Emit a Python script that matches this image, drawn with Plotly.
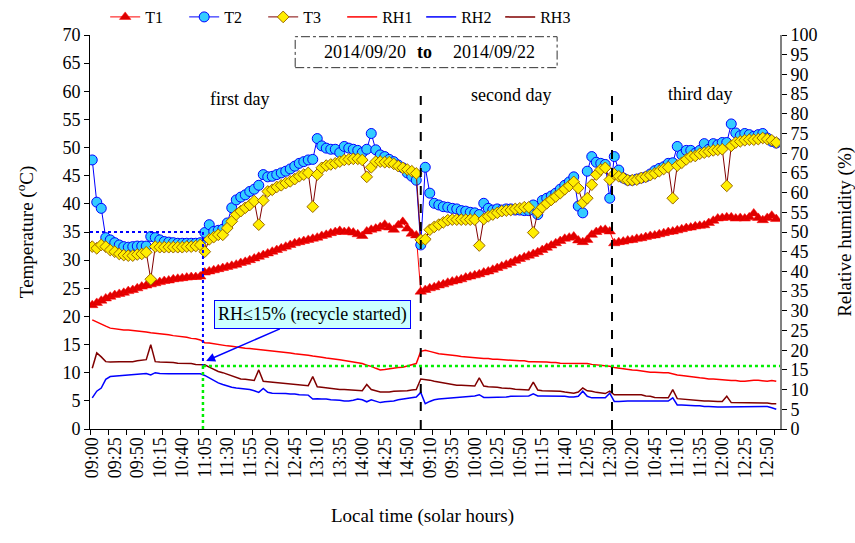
import plotly.graph_objects as go

# ---------------- data ----------------
DAY_SESSIONS = [("09:00", "15:00"), ("09:00", "12:30"), ("10:00", "13:00")]

T1_D1 = [22.0, 22.4, 22.8, 23.2, 23.5, 23.8, 24.0, 24.2, 24.5, 24.7,
         25.0, 25.3, 25.5, 25.7, 25.9, 26.1, 26.3, 26.4, 26.6, 26.7,
         26.8, 26.9, 27.0, 27.0, 27.1, 27.8, 28.0, 28.2, 28.4, 28.6,
         28.8, 29.0, 29.2, 29.5, 29.7, 30.0, 30.3, 30.6, 30.9, 31.2,
         31.5, 31.8, 32.1, 32.4, 32.7, 33.0, 33.2, 33.4, 33.6, 33.8,
         34.0, 34.3, 34.5, 34.8, 35.0, 35.2, 35.0, 35.1, 34.9, 34.6,
         34.3, 35.1, 35.4, 35.6, 35.9, 36.3, 35.8, 35.4, 36.2, 36.8,
         35.6, 34.7, 34.4]
T1_D2 = [24.4, 24.7, 25.0, 25.2, 25.5, 25.7, 26.0, 26.2, 26.4, 26.6,
         26.9, 27.1, 27.3, 27.5, 27.8, 28.0, 28.3, 28.6, 28.9, 29.2,
         29.5, 29.9, 30.2, 30.5, 30.8, 31.1, 31.4, 31.8, 32.2, 32.6,
         33.0, 33.4, 33.8, 34.0, 34.2, 33.5, 33.2, 33.6, 34.5, 35.0,
         35.3, 35.4, 35.1]
T1_D3 = [33.0, 33.2, 33.3, 33.5, 33.6, 33.8, 33.9, 34.1, 34.3, 34.4,
         34.6, 34.8, 35.0, 35.1, 35.3, 35.5, 35.7, 35.8, 36.0, 36.1,
         36.2, 36.6, 37.0, 37.4, 37.5, 37.6, 37.6, 37.4, 37.5, 37.4,
         37.6, 38.3, 37.5, 37.1, 37.5, 37.9, 37.3]

T2_D1 = [47.8, 40.3, 39.2, 34.0, 33.6, 33.1, 32.7, 32.4, 32.3, 32.4,
         32.5, 32.5, 32.5, 34.2, 34.0, 33.6, 33.3, 33.2, 33.1, 33.0,
         33.0, 33.0, 33.0, 33.0, 33.1, 34.9, 36.3, 35.1, 35.3, 35.5,
         36.6, 39.3, 40.7, 41.2, 41.6, 42.2, 42.6, 43.3, 45.2, 44.8,
         44.9, 45.2, 45.5, 45.8, 46.2, 46.7, 47.2, 47.5, 47.8, 47.9,
         51.6, 50.3, 49.9, 49.7, 49.7, 49.1, 50.2, 49.9, 49.7, 49.5,
         49.1, 49.7, 52.5, 49.6, 48.7, 48.4, 47.9, 47.5, 46.9, 46.4,
         45.5, 44.9, 44.2]
T2_D2 = [32.7, 46.5, 41.9, 40.1, 39.8, 39.5, 39.4, 39.2, 39.1, 38.8,
         38.7, 38.5, 38.4, 38.1, 40.1, 39.2, 38.9, 39.1, 38.9, 39.1,
         39.1, 38.9, 38.9, 38.8, 38.8, 39.8, 38.1, 40.6, 41.0, 41.4,
         41.9, 42.6, 43.3, 43.9, 44.8, 39.6, 38.4, 45.8, 48.4, 47.4,
         47.2, 47.0, 41.0]
T2_D3 = [48.4, 46.0, 44.6, 44.2, 44.2, 44.4, 44.6, 44.8, 45.3, 45.9,
         46.3, 46.6, 47.2, 47.3, 50.2, 48.7, 49.5, 49.5, 49.0, 49.5,
         50.7, 49.7, 50.7, 50.5, 50.9, 50.9, 54.2, 52.6, 52.1, 52.5,
         52.3, 52.0, 52.3, 52.5, 51.7, 51.1, 50.8]

T3_D1 = [32.4, 32.1, 32.7, 32.4, 31.8, 31.5, 31.1, 30.9, 30.8, 30.8,
         31.0, 31.1, 31.4, 26.6, 32.4, 32.3, 32.3, 32.3, 32.3, 32.3,
         32.3, 32.4, 32.4, 32.5, 32.7, 31.5, 33.7, 34.1, 34.5, 34.5,
         35.7, 36.9, 38.1, 38.7, 39.3, 39.8, 40.5, 36.3, 40.6, 42.2,
         42.5, 43.0, 43.3, 43.7, 44.0, 44.4, 44.9, 45.2, 45.5, 39.5,
         45.2, 46.4, 46.8, 47.0, 47.2, 47.5, 47.8, 47.9, 48.0, 48.0,
         47.8, 44.8, 46.5, 47.5, 47.5, 47.4, 47.4, 47.1, 46.7, 46.4,
         46.1, 45.8, 45.4]
T3_D2 = [33.6, 33.7, 35.4, 35.9, 36.3, 36.7, 37.1, 37.2, 37.2, 37.2,
         37.2, 37.2, 37.2, 32.6, 37.3, 37.8, 38.1, 38.4, 38.7, 38.8,
         38.9, 39.1, 39.2, 39.4, 39.4, 34.9, 38.5, 39.4, 40.1, 40.7,
         41.3, 41.9, 42.6, 43.2, 43.9, 42.8, 40.2, 41.0, 43.4, 45.2,
         46.1, 46.4, 44.3]
T3_D3 = [45.3, 44.9, 44.6, 44.2, 44.2, 44.3, 44.6, 44.8, 45.1, 45.4,
         45.8, 46.2, 46.5, 41.0, 46.8, 47.3, 47.9, 48.4, 48.5, 48.9,
         49.1, 49.3, 49.5, 49.6, 49.7, 43.2, 50.3, 50.9, 51.1, 51.3,
         51.4, 51.4, 51.5, 51.7, 51.5, 51.3, 50.9]

RH1_D1 = [27.7, 27.1, 26.7, 26.1, 25.6, 25.4, 25.3, 25.1, 25.1, 25.0,
          24.9, 24.7, 24.6, 24.4, 24.3, 24.1, 24.0, 23.9, 23.7, 23.6,
          23.4, 23.3, 23.0, 22.9, 22.6, 21.9, 21.8, 21.6, 21.5, 21.3,
          21.1, 21.0, 20.8, 20.7, 20.5, 20.4, 20.3, 20.1, 20.0, 19.9,
          19.8, 19.7, 19.5, 19.4, 19.3, 19.1, 19.0, 18.8, 18.7, 18.5,
          18.4, 18.2, 18.0, 17.9, 17.7, 17.6, 17.4, 17.2, 17.0, 16.8,
          16.6, 16.2, 15.9, 15.4, 15.0, 15.1, 15.3, 15.4, 15.6, 15.7,
          16.0, 16.3, 16.6]
RH1_D2 = [19.7, 20.0, 19.7, 19.3, 19.1, 19.0, 18.9, 18.7, 18.6, 18.4,
          18.3, 18.1, 18.1, 18.0, 17.9, 17.9, 17.7, 17.7, 17.6, 17.6,
          17.4, 17.4, 17.3, 17.3, 17.1, 17.1, 17.1, 17.0, 17.0, 16.9,
          16.9, 16.7, 16.7, 16.6, 16.6, 16.7, 16.6, 16.6, 16.4, 16.3,
          16.1, 16.0, 15.9]
RH1_D3 = [15.6, 15.4, 15.3, 15.1, 15.0, 14.9, 14.7, 14.6, 14.4, 14.4,
          14.3, 14.3, 14.3, 14.0, 13.7, 13.6, 13.4, 13.3, 13.1, 13.0,
          12.9, 12.7, 12.7, 12.6, 12.4, 12.4, 12.3, 12.3, 12.1, 12.1,
          12.3, 12.4, 12.4, 12.3, 12.1, 12.3, 12.1]

RH2_D1 = [7.9, 9.6, 10.4, 12.6, 13.3, 13.4, 13.6, 13.7, 13.7, 13.9,
          13.9, 14.0, 14.1, 13.7, 14.3, 14.1, 14.0, 14.0, 14.0, 14.0,
          14.0, 14.0, 14.0, 14.0, 14.0, 13.6, 12.9, 12.3, 11.7, 11.3,
          10.9, 10.6, 10.4, 10.3, 10.1, 10.0, 9.7, 9.3, 10.3, 9.3,
          9.1, 9.1, 9.0, 9.0, 8.9, 8.9, 8.7, 8.7, 8.6, 7.6,
          7.7, 7.6, 7.6, 7.4, 7.4, 7.3, 7.1, 7.1, 7.3, 7.6,
          7.4, 6.9, 7.4, 7.0, 6.7, 6.9, 7.0, 7.1, 7.4, 7.6,
          7.7, 7.9, 8.1]
RH2_D2 = [9.3, 6.4, 7.0, 7.4, 7.6, 7.7, 7.9, 7.9, 8.0, 8.1,
          8.3, 8.3, 8.4, 8.7, 8.0, 8.0, 8.0, 8.0, 8.1, 8.1,
          8.3, 8.3, 8.3, 8.4, 8.4, 8.9, 8.4, 8.4, 8.4, 8.4,
          8.3, 8.3, 8.3, 8.1, 8.1, 8.3, 9.6, 8.3, 7.9, 7.9,
          7.9, 7.9, 9.1]
RH2_D3 = [7.0, 7.0, 7.1, 7.1, 7.1, 7.1, 7.0, 7.0, 7.0, 7.0,
          7.0, 7.1, 7.1, 7.9, 6.1, 6.1, 6.0, 6.0, 5.9, 5.9,
          5.7, 5.7, 5.6, 5.6, 5.6, 5.6, 5.7, 5.6, 5.6, 5.6,
          5.7, 5.6, 5.7, 5.7, 5.7, 5.4, 5.0]

RH3_D1 = [15.4, 19.3, 18.3, 17.1, 17.0, 17.1, 17.1, 17.1, 17.1, 17.1,
          17.3, 17.4, 17.6, 21.4, 17.1, 17.0, 17.0, 16.9, 16.9, 16.7,
          16.7, 16.6, 16.6, 16.4, 16.4, 16.3, 15.7, 15.1, 14.6, 14.3,
          13.9, 13.6, 13.3, 12.7, 12.6, 12.4, 12.3, 15.0, 12.1, 12.0,
          11.9, 11.7, 11.6, 11.6, 11.4, 11.4, 11.3, 11.1, 11.0, 13.3,
          10.7, 10.6, 10.4, 10.3, 10.1, 10.0, 10.0, 9.9, 9.9, 9.7,
          9.7, 11.3, 10.0, 9.7, 9.4, 9.4, 9.4, 9.6, 9.6, 9.7,
          9.7, 9.9, 10.0]
RH3_D2 = [12.7, 12.6, 12.4, 12.1, 11.9, 11.6, 11.4, 11.3, 11.1, 11.1,
          11.0, 11.0, 10.9, 13.0, 10.9, 10.7, 10.7, 10.6, 10.4, 10.4,
          10.3, 10.1, 10.0, 10.0, 9.9, 11.9, 9.9, 9.7, 9.7, 9.6,
          9.6, 9.6, 9.4, 9.3, 9.1, 9.4, 10.4, 9.7, 9.6, 9.3,
          9.1, 9.0, 9.6]
RH3_D3 = [8.7, 8.7, 8.7, 8.7, 8.7, 8.7, 8.7, 8.4, 8.3, 8.0,
          7.9, 7.9, 7.9, 10.0, 7.7, 7.6, 7.4, 7.4, 7.3, 7.1,
          7.1, 7.1, 7.0, 7.0, 7.0, 8.3, 6.7, 6.7, 6.6, 6.6,
          6.6, 6.6, 6.6, 6.6, 6.6, 6.4, 6.4]

T1 = T1_D1 + T1_D2 + T1_D3
T2 = T2_D1 + T2_D2 + T2_D3
T3 = T3_D1 + T3_D2 + T3_D3
RH1 = RH1_D1 + RH1_D2 + RH1_D3
RH2 = RH2_D1 + RH2_D2 + RH2_D3
RH3 = RH3_D1 + RH3_D2 + RH3_D3


def session_times(start, end, step=5):
    h0, m0 = map(int, start.split(":"))
    h1, m1 = map(int, end.split(":"))
    out = []
    t = h0 * 60 + m0
    while t <= h1 * 60 + m1:
        out.append(f"{t // 60:02d}:{t % 60:02d}")
        t += step
    return out


TIMES = []
for s, e in DAY_SESSIONS:
    TIMES += session_times(s, e)
X = list(range(len(TIMES)))
for arr in (T1, T2, T3, RH1, RH2, RH3):
    assert len(arr) == len(TIMES), (len(arr), len(TIMES))

LABEL_STEP = 5
TICK_STEP = 4
DAY_BOUNDS = [73, 115.5]
RECYCLE_X = 24.6
RH_THRESHOLD = 16
T_THRESHOLD = 35

FONT = "Liberation Serif"

fig = go.Figure()
fig.add_trace(go.Scatter(x=X, y=T1, name="T1", mode="lines+markers",
                         line=dict(color="#ff0000", width=1),
                         marker=dict(symbol="triangle-up", size=10, color="#dd0000",
                                     line=dict(color="#ff0000", width=0.5))))
fig.add_trace(go.Scatter(x=X, y=T2, name="T2", mode="lines+markers",
                         line=dict(color="#0000ff", width=1),
                         marker=dict(symbol="circle", size=10, color="#33ccff",
                                     line=dict(color="#0000ff", width=1))))
fig.add_trace(go.Scatter(x=X, y=T3, name="T3", mode="lines+markers",
                         line=dict(color="#800000", width=1),
                         marker=dict(symbol="diamond", size=9, color="#ffee00",
                                     line=dict(color="#996600", width=1))))
fig.add_trace(go.Scatter(x=X, y=RH1, name="RH1", mode="lines", yaxis="y2",
                         line=dict(color="#ff0000", width=1.5)))
fig.add_trace(go.Scatter(x=X, y=RH2, name="RH2", mode="lines", yaxis="y2",
                         line=dict(color="#0000ff", width=1.5)))
fig.add_trace(go.Scatter(x=X, y=RH3, name="RH3", mode="lines", yaxis="y2",
                         line=dict(color="#800000", width=1.5)))

XR = [-0.5, 152.83]
tickvals = X[::LABEL_STEP]
ticktext = TIMES[::LABEL_STEP]
minor_vals = [v - 0.5 for v in range(0, len(TIMES) + 1, TICK_STEP)]

axfont = dict(family=FONT, size=18, color="black")

shapes = []
for b in DAY_BOUNDS:
    shapes.append(dict(type="line", xref="x", yref="y", x0=b, x1=b, y0=0, y1=59.5,
                       line=dict(color="black", width=2, dash="dash")))
shapes += [
    dict(type="line", xref="x", yref="y", x0=XR[0], x1=RECYCLE_X, y0=T_THRESHOLD, y1=T_THRESHOLD,
         line=dict(color="#0000ff", width=2, dash="dot")),
    dict(type="line", xref="x", yref="y", x0=RECYCLE_X, x1=RECYCLE_X, y0=T_THRESHOLD, y1=11.3,
         line=dict(color="#0000ff", width=2, dash="dot")),
    dict(type="line", xref="x", yref="y2", x0=RECYCLE_X, x1=XR[1], y0=RH_THRESHOLD, y1=RH_THRESHOLD,
         line=dict(color="#00ee00", width=2.5, dash="dot")),
    dict(type="line", xref="x", yref="y2", x0=RECYCLE_X, x1=RECYCLE_X, y0=0, y1=RH_THRESHOLD,
         line=dict(color="#00ee00", width=2.5, dash="dot")),
    dict(type="rect", xref="x", yref="y", x0=45.1, x1=103.3, y0=64.2, y1=69.7,
         line=dict(color="#333333", width=1, dash="dashdot")),
]

tfont = dict(family=FONT, size=18, color="black")
titlefont = dict(family=FONT, size=19, color="black")
annotations = [
    dict(x=60.6, y=66.9, xref="x", yref="y", text="2014/09/20", showarrow=False, font=tfont),
    dict(x=73.9, y=66.9, xref="x", yref="y", text="<b>to</b>", showarrow=False, font=tfont),
    dict(x=89.3, y=66.9, xref="x", yref="y", text="2014/09/22", showarrow=False, font=tfont),
    dict(x=32.8, y=58.6, xref="x", yref="y", text="first day", showarrow=False, font=tfont),
    dict(x=93.1, y=59.3, xref="x", yref="y", text="second day", showarrow=False, font=tfont),
    dict(x=135.1, y=59.5, xref="x", yref="y", text="third day", showarrow=False, font=tfont),
    dict(x=25.3, y=12.1, xref="x", yref="y", text="RH\u226415% (recycle started)",
         showarrow=True, ax=106, ay=-46, arrowcolor="#0000ff", arrowwidth=1.5,
         arrowhead=2, arrowsize=1.2, standoff=0,
         font=tfont, bgcolor="#ccffff", bordercolor="#0000ff", borderwidth=1, borderpad=3),
    # axis titles
    dict(x=-0.094, y=0.5, xref="paper", yref="paper", text="Temperature (<sup>o</sup>C)",
         textangle=-90, showarrow=False, font=titlefont, xanchor="center", yanchor="middle"),
    dict(x=1.094, y=0.5, xref="paper", yref="paper", text="Relative humidity (%)",
         textangle=-90, showarrow=False, font=titlefont, xanchor="center", yanchor="middle"),
    dict(x=0.482, y=-0.222, xref="paper", yref="paper", text="Local time (solar hours)",
         showarrow=False, font=titlefont, xanchor="center", yanchor="middle"),
]

fig.update_layout(
    width=855, height=543,
    margin=dict(l=90, r=75, t=35, b=114, autoexpand=False),
    paper_bgcolor="white", plot_bgcolor="white",
    font=dict(family=FONT, size=16, color="black"),
    showlegend=True,
    legend=dict(orientation="h", x=0.022, xanchor="left",
                yref="container", y=1 - 17 / 543, yanchor="middle",
                font=dict(family=FONT, size=16, color="black"),
                entrywidth=34, entrywidthmode="pixels", itemwidth=30,
                bgcolor="rgba(0,0,0,0)", tracegroupgap=0),
    xaxis=dict(range=XR, tickmode="array", tickvals=tickvals, ticktext=ticktext,
               tickangle=-90, ticks="", showgrid=False, zeroline=False, automargin=False,
               showline=True, linecolor="black", linewidth=1, tickfont=axfont,
               minor=dict(tickmode="array", tickvals=minor_vals, ticks="outside",
                          ticklen=5, tickcolor="black", showgrid=False)),
    xaxis2=dict(range=XR, overlaying="x", anchor="y", side="bottom", tickmode="array",
                tickvals=minor_vals, ticks="inside", ticklen=5, tickcolor="black",
                automargin=False,
                showticklabels=False, showgrid=False, zeroline=False, showline=False),
    yaxis=dict(range=[0, 70], tickmode="linear", tick0=0, dtick=5, ticks="outside", ticklen=5,
               tickcolor="black", showgrid=False, zeroline=False, showline=True,
               automargin=False,
               linecolor="black", linewidth=1, tickfont=axfont),
    yaxis3=dict(range=[0, 70], overlaying="y", anchor="x", side="left", tickmode="linear",
                tick0=0, dtick=5, ticks="inside", ticklen=5, tickcolor="black",
                automargin=False,
                showticklabels=False, showgrid=False, zeroline=False, showline=False),
    yaxis2=dict(range=[0, 100], overlaying="y", side="right", anchor="x", tickmode="linear",
                tick0=0, dtick=5, ticks="outside", ticklen=5, tickcolor="black",
                automargin=False,
                showgrid=False, zeroline=False, showline=True, linecolor="#808080",
                linewidth=2, tickfont=axfont),
    yaxis4=dict(range=[0, 100], overlaying="y", side="right", anchor="x", tickmode="linear",
                tick0=0, dtick=5, ticks="inside", ticklen=5, tickcolor="black",
                automargin=False,
                showticklabels=False, showgrid=False, zeroline=False, showline=False),
    shapes=shapes,
    annotations=annotations,
)

fig.write_html("out.html")
